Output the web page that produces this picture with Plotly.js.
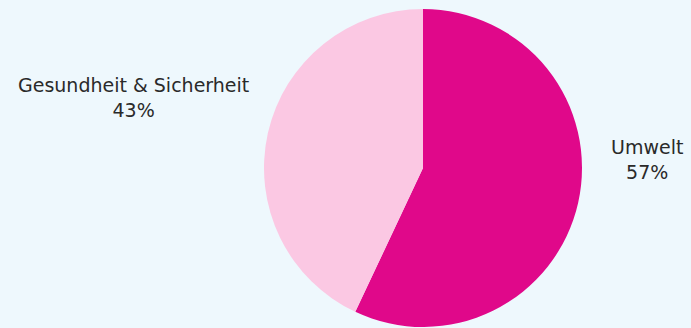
<!DOCTYPE html>
<html>
<head>
<meta charset="utf-8">
<script src="https://cdn.plot.ly/plotly-3.0.1.min.js"></script>
<style>html,body{margin:0;padding:0;background:#eef8fd;}</style>
</head>
<body>
<div id="chart" style="width:691px;height:328px;"></div>
<script>
const categories = ["Umwelt", "Gesundheit & Sicherheit"];
const values = [57, 43];
const colors = ["#e0088a", "#fbc8e3"];
// label anchor positions (paper coords) for the outside labels
const labelPos = [[0.937, 0.527], [0.193, 0.722]];

const total = values.reduce((a, b) => a + b, 0);
const annotations = categories.map((c, i) => ({
  text: c + "<br>" + Math.round(values[i] / total * 100) + "%",
  x: labelPos[i][0], y: labelPos[i][1],
  xref: "paper", yref: "paper",
  xanchor: "center", yanchor: "middle",
  showarrow: false,
  align: "center",
  font: {family: "DejaVu Sans", size: 19, color: "#2a2a2a"}
}));

Plotly.newPlot("chart", [{
  type: "pie",
  labels: categories,
  values: values,
  marker: {colors: colors, line: {width: 0}},
  textinfo: "none",
  sort: false,
  direction: "clockwise",
  rotation: 0,
  showlegend: false,
  domain: {x: [0.2243, 1], y: [0, 1]},
  hoverinfo: "label+percent"
}], {
  width: 691,
  height: 328,
  paper_bgcolor: "#eef8fd",
  plot_bgcolor: "#eef8fd",
  margin: {l: 0, r: 0, t: 9, b: 1},
  font: {family: "DejaVu Sans", size: 16, color: "#2a2a2a"},
  annotations: annotations
}, {displayModeBar: false});
</script>
</body>
</html>
